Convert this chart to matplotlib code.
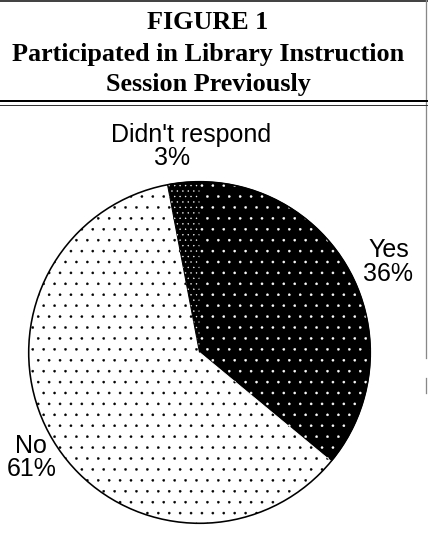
import matplotlib
matplotlib.use("Agg")
import matplotlib.pyplot as plt
from matplotlib.lines import Line2D
from matplotlib.patches import Circle

# survey answers
answers = ["Yes", "No", "Didn't respond"]
percents = [36, 61, 3]

title_lines = ["FIGURE 1", "Participated in Library Instruction", "Session Previously"]

W, H, DPI = 428, 539, 131
plt.rcParams['hatch.linewidth'] = 0.2


def pt(px):
    return px * 72.0 / DPI


fig = plt.figure(figsize=(W / DPI, H / DPI), dpi=DPI)


def ftext(x, y, s, **kw):
    fig.text(x / W, 1 - y / H, s, **kw)


def fline(x0, x1, y0, y1, **kw):
    fig.add_artist(Line2D([x0 / W, x1 / W], [1 - y0 / H, 1 - y1 / H],
                          transform=fig.transFigure, **kw))


# frame and double rule under the heading
fline(0, W, 1, 1, color="#444444", lw=pt(2))
fline(426, 426, 0, 358, color="#888888", lw=pt(1.3))
fline(426, 426, 378, 393, color="#888888", lw=pt(1.3))
fline(0, W, 100.5, 100.5, color="black", lw=pt(2))
fline(0, W, 104.5, 104.5, color="#333333", lw=pt(1))

serif = dict(family="Liberation Serif", weight="bold", size=pt(26.2),
             ha="center", va="baseline")
for line, y in zip(title_lines, [29, 61, 91]):
    ftext(208, y, line, **serif)

# pie: solid fills first, then the dotted hatches on top
cx, cy, r = 199.5, 352.5, 172.5
ax = fig.add_axes([(cx - r) / W, (H - cy - r) / H, 2 * r / W, 2 * r / H])
fills = ["black", "white", "black"]
base, _ = ax.pie(percents, startangle=90, counterclock=False, radius=1,
                 colors=fills)
for w, c in zip(base, fills):
    w.set_edgecolor(c)
    w.set_linewidth(pt(1))

dots, _ = ax.pie(percents, startangle=90, counterclock=False, radius=1)
hatch_style = [("..", "white"), ("..", "black"), ("....", "white")]
for w, (h, c) in zip(dots, hatch_style):
    w.set_facecolor("none")
    w.set_hatch(h)
    w.set_edgecolor(c)
    w.set_linewidth(0)
ax.add_patch(Circle((0, 0), 1, fill=False, edgecolor="black", lw=pt(1.6)))
ax.set_xlim(-1.01, 1.01)
ax.set_ylim(-1.01, 1.01)
ax.set_aspect("equal")
ax.axis("off")

# slice labels
sans = dict(family="Liberation Sans", size=pt(25), ha="center", va="baseline")
label_pos = [((388.5, 257), (387.5, 281)),
             ((31, 453), (31.5, 476)),
             ((191, 141.7), (172, 165))]
for name, pct, (p1, p2) in zip(answers, percents, label_pos):
    ftext(p1[0], p1[1], name, **sans)
    ftext(p2[0], p2[1], f"{pct}%", **sans)

fig.savefig("out.png", dpi=DPI, facecolor="white")
